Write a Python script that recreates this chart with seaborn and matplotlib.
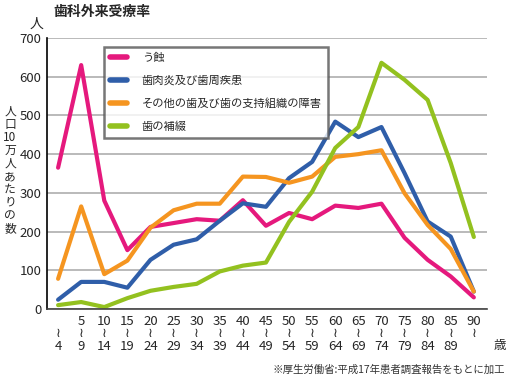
import matplotlib
matplotlib.use("Agg")
import matplotlib.pyplot as plt
import seaborn as sns
import pandas as pd
import numpy as np

sns.set_theme(style="white")
plt.rcParams['font.family'] = ['Noto Sans CJK JP', 'DejaVu Sans']

age_start = ["", "5", "10", "15", "20", "25", "30", "35", "40", "45",
             "50", "55", "60", "65", "70", "75", "80", "85", "90"]
age_end = ["4", "9", "14", "19", "24", "29", "34", "39", "44", "49",
           "54", "59", "64", "69", "74", "79", "84", "89", ""]

caries = [365, 630, 280, 152, 212, 222, 232, 228, 281, 215,
          248, 232, 267, 261, 272, 184, 127, 84, 30]
perio = [24, 70, 70, 55, 127, 166, 180, 228, 273, 264,
         338, 380, 484, 444, 470, 351, 226, 187, 45]
other = [78, 265, 90, 125, 210, 255, 272, 272, 342, 341,
         326, 342, 393, 400, 410, 299, 217, 155, 45]
prosth = [10, 18, 5, 28, 47, 57, 65, 97, 112, 120,
          225, 303, 416, 470, 636, 592, 540, 377, 186]

series_names = ["う蝕", "歯肉炎及び歯周疾患", "その他の歯及び歯の支持組織の障害", "歯の補綴"]
colors = ["#e5197d", "#2f5ea9", "#f59520", "#93c11f"]

rows = []
for name, vals in zip(series_names, [caries, perio, other, prosth]):
    for i, v in enumerate(vals):
        rows.append({"age": i, "value": v, "series": name})
df = pd.DataFrame(rows)

fig = plt.figure(figsize=(5.10, 3.79), dpi=100)
ax = fig.add_axes([47/510, 1 - 309/379, (487-47)/510, (309-38)/379])

sns.lineplot(data=df, x="age", y="value", hue="series", palette=colors,
             hue_order=series_names, linewidth=3.0, ax=ax, legend=True)

ax.set_xlim(-0.48, 18.57)
ax.set_ylim(0, 700)
ax.set_yticks(range(0, 701, 100))
ax.set_yticklabels([str(v) for v in range(0, 701, 100)], fontsize=9.5)
ax.yaxis.grid(True, color="#b4b4b4", linewidth=1.3)
ax.set_axisbelow(True)
ax.set_xlabel("")
ax.set_ylabel("")

ax.set_xticks(range(len(age_start)))
labels = []
for s, e in zip(age_start, age_end):
    labels.append(f"{s}\n≀\n{e}")
ax.set_xticklabels(labels, fontsize=9.5, linespacing=0.95)
ax.tick_params(axis="x", direction="in", length=3, color="#999999", pad=4)
ax.tick_params(axis="y", direction="out", length=2, color="#333333", pad=2)

for sp in ["top", "right"]:
    ax.spines[sp].set_visible(False)
ax.spines["left"].set_color("black")
ax.spines["left"].set_linewidth(1.2)
ax.spines["bottom"].set_color("#444444")
ax.spines["bottom"].set_linewidth(1.2)

leg = ax.legend(loc="upper left", bbox_to_anchor=((104-47)/440, (309-47)/271),
                borderaxespad=0, frameon=True, fancybox=False, fontsize=8.1,
                handlelength=1.5, labelspacing=1.1, borderpad=0.55,
                handletextpad=1.3)
leg.get_frame().set_edgecolor("#555555")
leg.get_frame().set_linewidth(1.8)
for line in leg.get_lines():
    line.set_linewidth(4)

fig.text(53/510, 1 - 12/379, "歯科外来受療率", fontsize=10, fontweight="bold",
         ha="left", va="center")
fig.text(37/510, 1 - 24/379, "人", fontsize=10, ha="center", va="center")
fig.text(10/510, 1 - 170/379, "人\n口\n10\n万\n人\nあ\nた\nり\nの\n数", fontsize=8.5,
         ha="center", va="center", linespacing=1.0)
fig.text(500/510, 1 - 346/379, "歳", fontsize=9, ha="center", va="center")
fig.text(505/510, 1 - 370/379, "※厚生労働省:平成17年患者調査報告をもとに加工",
         fontsize=7.5, ha="right", va="center", color="#333333")

fig.savefig("out.png", dpi=100)
